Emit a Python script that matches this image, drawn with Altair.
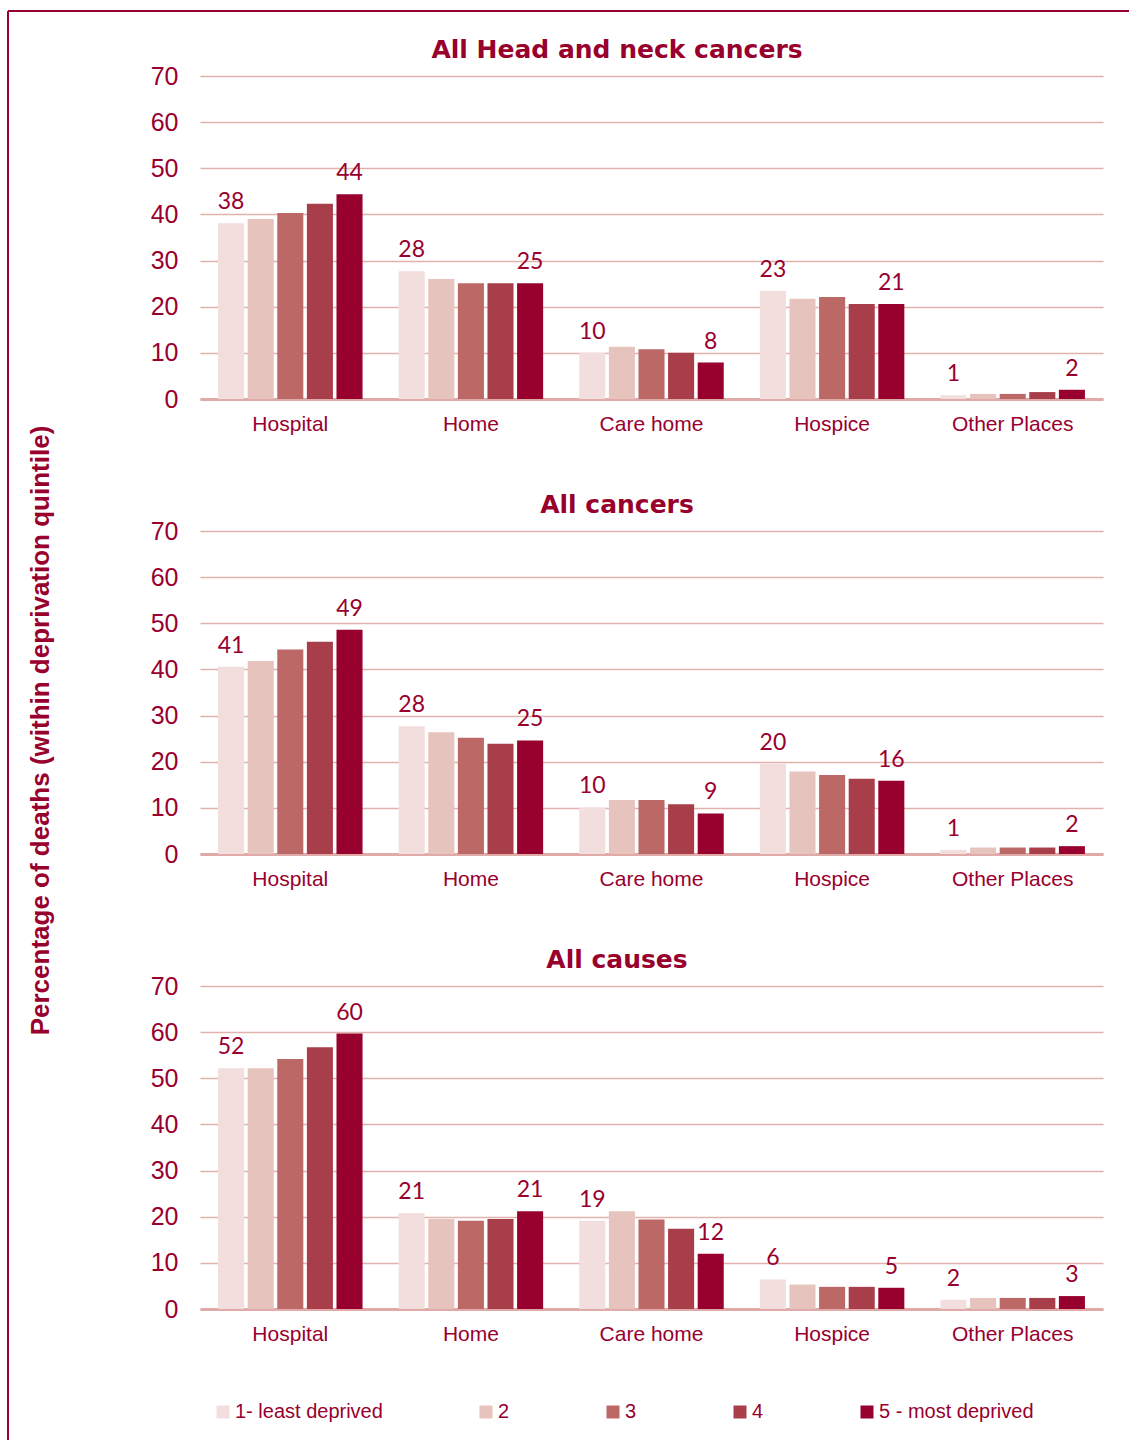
import altair as alt
import pandas as pd

# Place of death categories and deprivation quintiles
places = ["Hospital", "Home", "Care home", "Hospice", "Other Places"]
quintiles = ["1- least deprived", "2", "3", "4", "5 - most deprived"]
quintile_colors = ["#F2DEDD", "#E6C3BD", "#BC6867", "#A83E4A", "#98002E"]

# Percentage of deaths by place (rows) for quintiles 1..5 (columns)
head_neck = [
    [38.1, 39.0, 40.3, 42.3, 44.4],
    [27.7, 26.0, 25.1, 25.1, 25.1],
    [10.0, 11.3, 10.8, 10.0, 7.9],
    [23.4, 21.7, 22.1, 20.6, 20.6],
    [0.8, 1.1, 1.1, 1.5, 2.0],
]
all_cancers = [
    [40.6, 41.8, 44.3, 46.0, 48.6],
    [27.7, 26.4, 25.2, 23.9, 24.6],
    [10.1, 11.7, 11.7, 10.8, 8.8],
    [19.6, 17.9, 17.1, 16.3, 15.9],
    [0.9, 1.4, 1.4, 1.4, 1.7],
]
all_causes = [
    [52.2, 52.2, 54.2, 56.7, 59.7],
    [20.8, 19.5, 19.1, 19.5, 21.2],
    [19.1, 21.2, 19.4, 17.4, 12.0],
    [6.4, 5.3, 4.8, 4.8, 4.6],
    [2.0, 2.4, 2.4, 2.4, 2.8],
]

panel_titles = ["All Head and neck cancers", "All cancers", "All causes"]
y_title = "Percentage of deaths (within deprivation quintile)"

DARK_RED = "#98002E"
GRID = "#E2B2AF"
W, H = 903, 323


def to_frame(values):
    rows = []
    for i, p in enumerate(places):
        for j, q in enumerate(quintiles):
            rows.append({"place": p, "quintile": q, "pct": values[i][j]})
    return pd.DataFrame(rows)


def panel(title, values, show_y_title=False, extra=()):
    df = to_frame(values)
    y_axis = alt.Axis(
        values=list(range(0, 71, 10)),
        grid=True, gridColor=GRID, gridWidth=1.5,
        domain=False, ticks=False, tickSize=0,
        labelFont="Liberation Sans", labelFontSize=25, labelColor=DARK_RED,
        labelPadding=22,
        title=y_title if show_y_title else None,
        titleFont="Liberation Sans", titleFontSize=26, titleFontWeight="bold",
        titleColor=DARK_RED, titleX=-160, titleY=199, titleAngle=270,
        titleAlign="center", titleBaseline="middle",
    )
    x_enc = alt.X(
        "place:N", sort=places, title=None,
        scale=alt.Scale(paddingInner=0.2, paddingOuter=0.1),
        axis=alt.Axis(
            labelAngle=0, ticks=False, tickSize=0,
            domain=True, domainColor="#DFAAA7", domainWidth=3,
            labelFont="Liberation Sans", labelFontSize=21, labelColor=DARK_RED,
            labelPadding=14, grid=False,
        ),
    )
    xoff = alt.XOffset(
        "quintile:N", sort=quintiles,
        scale=alt.Scale(paddingInner=0.12, paddingOuter=0),
    )
    y_enc = alt.Y("pct:Q", scale=alt.Scale(domain=[0, 70]), axis=y_axis)

    bars = alt.Chart(df).mark_bar().encode(
        x=x_enc, xOffset=xoff, y=y_enc,
        color=alt.Color(
            "quintile:N", sort=quintiles,
            scale=alt.Scale(domain=quintiles, range=quintile_colors),
            legend=alt.Legend(
                title=None, orient="none", direction="horizontal", columns=5,
                legendX=13, legendY=1326,
                symbolType="square", symbolSize=169, symbolStrokeWidth=0,
                labelFont="Liberation Sans", labelFontSize=20, labelLimit=400,
                labelColor=DARK_RED, labelOffset=2, columnPadding=93,
            ),
        ),
    )
    labels = alt.Chart(df).mark_text(
        font="Lato", fontSize=23, color=DARK_RED, baseline="bottom", dy=-9,
    ).encode(
        x=x_enc, xOffset=xoff, y=alt.Y("pct:Q"),
        text=alt.Text("pct:Q", format=".0f"),
    ).transform_filter(
        alt.FieldOneOfPredicate(field="quintile", oneOf=[quintiles[0], quintiles[-1]])
    )
    # Panel heading drawn as a text mark above the plot area
    heading = alt.Chart(pd.DataFrame({"heading": [title]})).mark_text(
        font="DejaVu Sans", fontSize=25, fontWeight="bold", color=DARK_RED,
        align="center", baseline="middle",
    ).encode(x=alt.value(417), y=alt.value(-26), text="heading:N")
    return alt.layer(bars, labels, heading, *extra).properties(width=W, height=H)


# Border lines along the top and left edges of the figure
frame_df = pd.DataFrame({"edge": ["top"]})
frame_top = alt.Chart(frame_df).mark_rule(color=DARK_RED, strokeWidth=2).encode(
    x=alt.value(-192), x2=alt.value(929), y=alt.value(-65)
)
frame_left = alt.Chart(frame_df).mark_rule(color=DARK_RED, strokeWidth=2).encode(
    x=alt.value(-192), y=alt.value(-65), y2=alt.value(1364)
)

p1 = panel(panel_titles[0], head_neck, extra=(frame_top, frame_left))
p2 = panel(panel_titles[1], all_cancers, show_y_title=True)
p3 = panel(panel_titles[2], all_causes)

chart = alt.vconcat(p1, p2, p3, spacing=132, bounds="flush").properties(
    padding={"left": 7, "top": 10, "right": 0, "bottom": 0},
    background="white",
).configure_view(stroke=None)

chart.save("out.html", embed_options={"renderer": "svg", "actions": False})
